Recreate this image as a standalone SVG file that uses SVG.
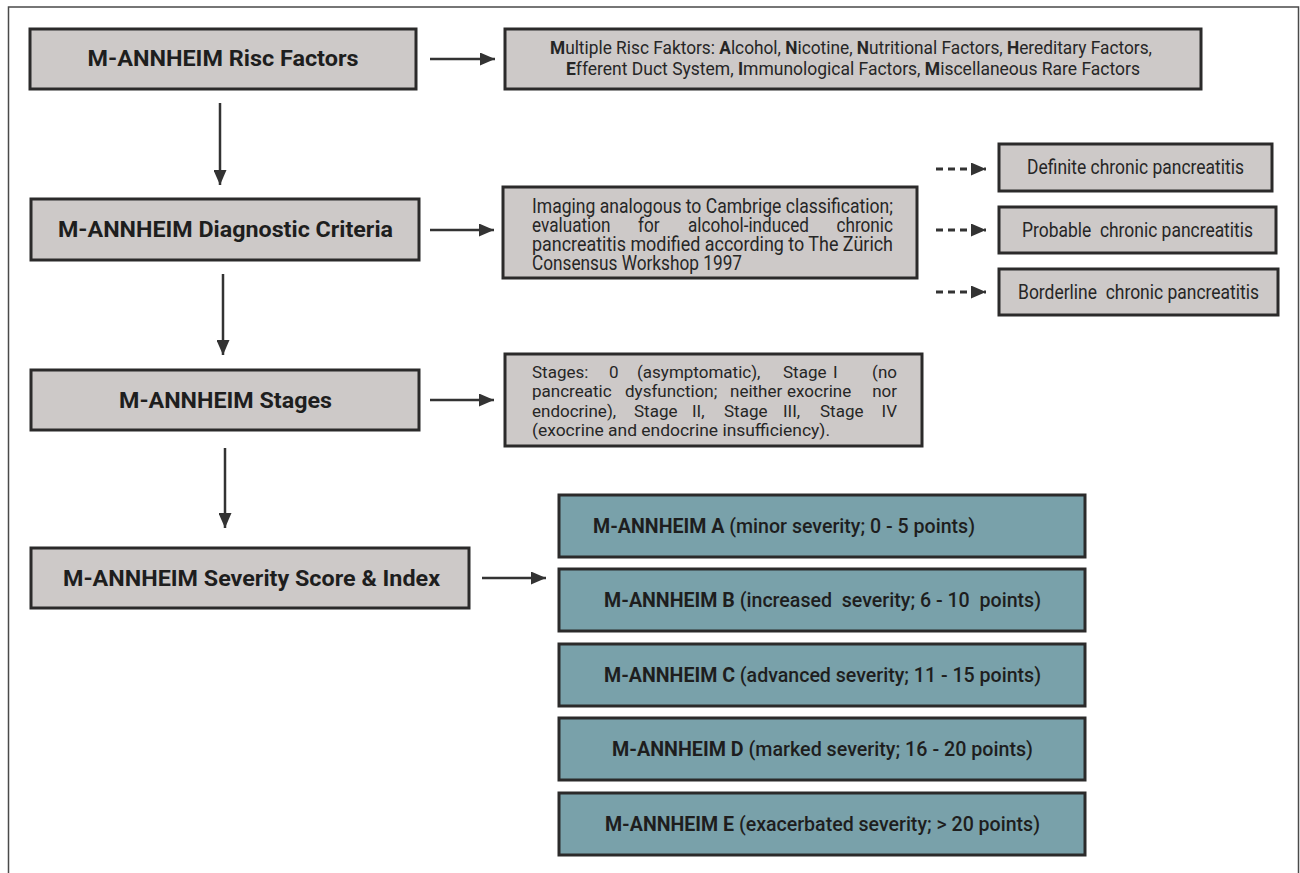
<svg xmlns="http://www.w3.org/2000/svg" width="1300" height="873" viewBox="0 0 1300 873">
<style>
.frame{fill:#fff;stroke:#4a4a4a;stroke-width:1.5}
.gbox{fill:#cdc9c8;stroke:#2b2a2a;stroke-width:3}
.tbox{fill:#79a1aa;stroke:#2b2a2a;stroke-width:3}
.hd{font-family:Roboto,"Liberation Sans",sans-serif;font-weight:700;font-size:22px;fill:#1e1e1e;text-anchor:middle}
.desc{font-family:Roboto,"Liberation Sans",sans-serif;font-size:19.5px;fill:#262626}
.rd{font-family:Roboto,"Liberation Sans",sans-serif;font-size:19px;fill:#262626}
.st{font-family:Roboto,"Liberation Sans",sans-serif;font-size:17px;fill:#262626}
.tt{font-family:Roboto,"Liberation Sans",sans-serif;font-weight:500;font-size:19.5px;fill:#1e1e1e}
.b{font-weight:700}
.ln{stroke:#333;stroke-width:2.5;fill:none}
.dl{stroke:#333;stroke-width:3;fill:none;stroke-dasharray:7 5}
</style>
<defs>
<marker id="ah" viewBox="0 0 15 13" refX="15" refY="6.5" markerWidth="15" markerHeight="13" markerUnits="userSpaceOnUse" orient="auto">
<path d="M0,0 L15,6.5 L0,13 Z" fill="#333"/>
</marker>
</defs>
<rect class="frame" x="8.5" y="7" width="1290" height="900"/>

<g id="connectors">
<line class="ln" x1="430" y1="59" x2="495" y2="59" marker-end="url(#ah)"/>
<line class="ln" x1="220" y1="103" x2="220" y2="185" marker-end="url(#ah)"/>
<line class="ln" x1="430" y1="230" x2="494" y2="230" marker-end="url(#ah)"/>
<line class="ln" x1="223" y1="274" x2="223" y2="355" marker-end="url(#ah)"/>
<line class="ln" x1="430" y1="400" x2="494" y2="400" marker-end="url(#ah)"/>
<line class="ln" x1="225" y1="448" x2="225" y2="528" marker-end="url(#ah)"/>
<line class="ln" x1="482" y1="578" x2="546" y2="578" marker-end="url(#ah)"/>
<line class="dl" x1="936" y1="169" x2="986" y2="169" marker-end="url(#ah)"/>
<line class="dl" x1="936" y1="230" x2="986" y2="230" marker-end="url(#ah)"/>
<line class="dl" x1="936" y1="292" x2="986" y2="292" marker-end="url(#ah)"/>
</g>

<g id="risc-factors">
<rect class="gbox" x="30" y="29" width="386" height="60"/>
<text class="hd" x="223" y="66" textLength="271" lengthAdjust="spacingAndGlyphs">M-ANNHEIM Risc Factors</text>
</g>
<g id="risc-factors-desc">
<rect class="gbox" x="505" y="29" width="696" height="60"/>
<text class="rd" x="851" y="54" text-anchor="middle" textLength="602" lengthAdjust="spacingAndGlyphs"><tspan class="b">M</tspan>ultiple Risc Faktors: <tspan class="b">A</tspan>lcohol, <tspan class="b">N</tspan>icotine, <tspan class="b">N</tspan>utritional Factors, <tspan class="b">H</tspan>ereditary Factors,</text>
<text class="rd" x="853" y="75" text-anchor="middle" textLength="574" lengthAdjust="spacingAndGlyphs"><tspan class="b">E</tspan>fferent Duct System, <tspan class="b">I</tspan>mmunological Factors, <tspan class="b">M</tspan>iscellaneous Rare Factors</text>
</g>

<g id="diagnostic-criteria">
<rect class="gbox" x="31" y="199" width="388" height="61"/>
<text class="hd" x="225.5" y="237" textLength="335" lengthAdjust="spacingAndGlyphs">M-ANNHEIM Diagnostic Criteria</text>
</g>
<g id="diagnostic-desc">
<rect class="gbox" x="503" y="187" width="414" height="91"/>
<text class="desc" x="532" y="213" textLength="361" lengthAdjust="spacingAndGlyphs">Imaging analogous to Cambrige classification;</text>
<g transform="translate(532 0) scale(0.88 1)">
<text class="desc" y="232"><tspan x="0">evaluation</tspan><tspan x="120.5">for</tspan><tspan x="177.3">alcohol-induced</tspan><tspan x="410.2" text-anchor="end">chronic</tspan></text>
</g>
<text class="desc" x="532" y="251" textLength="361" lengthAdjust="spacingAndGlyphs">pancreatitis modified according to The Zürich</text>
<text class="desc" x="532" y="270" textLength="210" lengthAdjust="spacingAndGlyphs">Consensus Workshop 1997</text>
</g>
<g id="definite">
<rect class="gbox" x="999" y="144" width="273" height="47"/>
<text class="desc" x="1135.5" y="174" text-anchor="middle" textLength="217" lengthAdjust="spacingAndGlyphs">Definite chronic pancreatitis</text>
</g>
<g id="probable">
<rect class="gbox" x="999" y="207" width="277" height="46"/>
<text class="desc" x="1137.5" y="237" text-anchor="middle" textLength="231" lengthAdjust="spacingAndGlyphs" xml:space="preserve">Probable  chronic pancreatitis</text>
</g>
<g id="borderline">
<rect class="gbox" x="999" y="269" width="279" height="46"/>
<text class="desc" x="1138.5" y="299" text-anchor="middle" textLength="241" lengthAdjust="spacingAndGlyphs" xml:space="preserve">Borderline  chronic pancreatitis</text>
</g>

<g id="stages">
<rect class="gbox" x="31" y="370" width="388" height="60"/>
<text class="hd" x="225.5" y="408" textLength="213" lengthAdjust="spacingAndGlyphs">M-ANNHEIM Stages</text>
</g>
<g id="stages-desc">
<rect class="gbox" x="505" y="354" width="417" height="92"/>
<text class="st" y="378"><tspan x="532">Stages:</tspan><tspan x="609">0</tspan><tspan x="637">(asymptomatic),</tspan><tspan x="783">Stage</tspan><tspan x="833">I</tspan><tspan x="897" text-anchor="end">(no</tspan></text>
<text class="st" y="397"><tspan x="532">pancreatic</tspan><tspan x="625">dysfunction;</tspan><tspan x="730">neither</tspan><tspan x="787">exocrine</tspan><tspan x="897" text-anchor="end">nor</tspan></text>
<text class="st" y="417"><tspan x="532">endocrine),</tspan><tspan x="634">Stage</tspan><tspan x="692">II,</tspan><tspan x="724">Stage</tspan><tspan x="783">III,</tspan><tspan x="820">Stage</tspan><tspan x="897" text-anchor="end">IV</tspan></text>
<text class="st" x="532" y="436" textLength="298" lengthAdjust="spacingAndGlyphs">(exocrine and endocrine insufficiency).</text>
</g>

<g id="severity">
<rect class="gbox" x="31" y="548" width="438" height="60"/>
<text class="hd" x="251.5" y="586" textLength="377" lengthAdjust="spacingAndGlyphs">M-ANNHEIM Severity Score &amp; Index</text>
</g>
<g id="sev-a">
<rect class="tbox" x="559" y="495" width="526" height="62"/>
<text class="tt" x="593" y="533" textLength="382" lengthAdjust="spacingAndGlyphs"><tspan class="b">M-ANNHEIM A</tspan> (minor severity; 0 - 5 points)</text>
</g>
<g id="sev-b">
<rect class="tbox" x="559" y="569" width="526" height="62"/>
<text class="tt" x="822.5" y="607" text-anchor="middle" textLength="437" lengthAdjust="spacingAndGlyphs" xml:space="preserve"><tspan class="b">M-ANNHEIM B</tspan> (increased  severity; 6 - 10  points)</text>
</g>
<g id="sev-c">
<rect class="tbox" x="559" y="644" width="526" height="62"/>
<text class="tt" x="822.5" y="682" text-anchor="middle" textLength="437" lengthAdjust="spacingAndGlyphs"><tspan class="b">M-ANNHEIM C</tspan> (advanced severity; 11 - 15 points)</text>
</g>
<g id="sev-d">
<rect class="tbox" x="559" y="718" width="526" height="62"/>
<text class="tt" x="822.5" y="756" text-anchor="middle" textLength="421" lengthAdjust="spacingAndGlyphs"><tspan class="b">M-ANNHEIM D</tspan> (marked severity; 16 - 20 points)</text>
</g>
<g id="sev-e">
<rect class="tbox" x="559" y="793" width="526" height="62"/>
<text class="tt" x="822.5" y="831" text-anchor="middle" textLength="435" lengthAdjust="spacingAndGlyphs"><tspan class="b">M-ANNHEIM E</tspan> (exacerbated severity; &gt; 20 points)</text>
</g>
</svg>
